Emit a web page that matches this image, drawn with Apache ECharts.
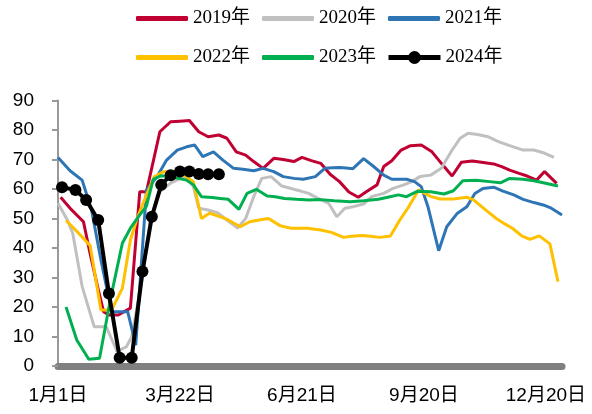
<!DOCTYPE html>
<html>
<head>
<meta charset="utf-8">
<script src="https://cdn.jsdelivr.net/npm/echarts@6/dist/echarts.min.js"></script>
<style>
  html, body { margin: 0; padding: 0; background: #fff; }
  #main { width: 592px; height: 414px; }
</style>
</head>
<body>
<div id="main"></div>
<script>
// x 轴: 天数(从起点开始), 每 91 天一个标签
const xTicks = [0, 91, 182, 273, 364];
const xLabels = ["1月1日", "3月22日", "6月21日", "9月20日", "12月20日"];
const names = ["2019年", "2020年", "2021年", "2022年", "2023年", "2024年"];

// [天数, 数值]
const y2019 = [[2,57.2],[10,53],[19,48.9],[24,38],[30,26],[34,18.4],[38,17.3],[45,17.3],[54,19.6],[61,59.1],[66,59.1],[76,79.4],[84,82.8],[91,83],[98,83.2],[105,79.4],[112,77.7],[120,78.3],[126,77.2],[133,72.6],[140,71.5],[146,69.3],[153,67],[161,70.4],[168,70],[176,69.3],[182,70.7],[189,69.6],[196,68.7],[203,65],[210,62.5],[217,59],[224,57.2],[230,59.1],[238,61.4],[243,67.6],[249,69.6],[256,73.2],[263,74.7],[271,74.9],[279,72.6],[286,68.7],[294,64.4],[301,69.1],[309,69.5],[316,69.1],[325,68.5],[331,67.6],[337,66.4],[344,65.3],[350,64.4],[357,63],[363,65.9],[372,61.9]];
const y2020 = [[0,55.2],[7,49.5],[11,45],[18,27],[27,13.3],[36,13.3],[44,5],[51,6.5],[55,9.9],[63,30],[69,50],[76,59],[84,62],[91,63.5],[96,64],[101,60.8],[105,53.5],[112,52.9],[119,52],[126,49.5],[134,46.8],[140,50],[146,57.4],[152,63.6],[159,64.2],[167,61],[176,59.9],[181,59.3],[187,58.5],[194,56.8],[202,55.1],[208,50.6],[214,53.5],[220,54],[228,54.9],[234,57.4],[243,58.5],[250,60.2],[258,61.4],[264,62.5],[270,64.2],[278,64.7],[286,67],[294,73.2],[300,77.2],[306,78.9],[313,78.5],[321,77.7],[329,76],[337,74.7],[347,73.2],[355,73.2],[362,72.3],[370,70.7]];
const y2021 = [[0,70.7],[9,66.2],[18,63],[25,53],[32,36],[40,18.4],[52,18.4],[58,7.1],[66,59.7],[74,64.2],[81,69.8],[89,73.2],[96,74.3],[102,74.9],[108,71],[116,72.6],[123,69.8],[131,67],[138,66.7],[146,66.2],[153,67],[161,65.9],[168,64.2],[176,63.6],[183,63.3],[192,64.2],[199,67],[205,67.2],[210,67.3],[215,67.1],[220,66.9],[228,70.3],[235,67.8],[243,64.7],[249,63.3],[260,63.3],[266,62.5],[271,60.8],[276,54],[284,39.1],[290,47.2],[298,51.8],[305,54],[311,58.5],[317,60.2],[325,60.6],[332,59.3],[340,58],[347,56.5],[355,55.4],[362,54.6],[368,53.5],[376,51.2]];
const y2022 = [[6,49.3],[15,45.2],[24,40.8],[32,19],[40,19],[48,26.3],[54,42.7],[59,50],[66,58],[72,64.2],[79,65.9],[86,65.5],[94,64.7],[101,62.5],[107,50],[113,51.8],[121,50.6],[127,49.5],[136,47.2],[143,48.9],[150,49.5],[157,50],[166,47.5],[174,46.7],[180,46.7],[186,46.7],[196,46.1],[204,45.3],[213,43.6],[219,44],[227,44.2],[233,44],[240,43.6],[248,44.1],[255,49.5],[261,53.5],[269,59.7],[278,57.5],[285,56.6],[295,56.6],[305,57.2],[310,56.3],[319,52.9],[327,50],[334,48],[339,46.7],[346,44.1],[352,42.9],[359,44.1],[367,41.4],[373,28.6]];
const y2023 = [[6,20],[14,8.8],[23,2.3],[31,2.6],[39,22.4],[48,41.6],[54,46.7],[61,51.2],[66,54.2],[71,63.3],[77,64.5],[86,64],[96,63],[101,61.4],[107,57.4],[115,57.1],[121,56.8],[127,56.5],[135,53.1],[141,58.5],[148,59.9],[156,57.6],[162,57.4],[169,56.8],[178,56.5],[187,56.3],[196,56.4],[206,56],[218,55.7],[228,56],[239,56.5],[246,57.2],[254,58],[260,57.4],[268,59.2],[278,59.1],[288,58.3],[295,59.4],[302,62.8],[312,63],[322,62.5],[330,62.1],[337,63.6],[347,63.3],[355,62.8],[362,62.1],[373,61]];
const y2024 = [[3,60.6],[13,59.7],[21,56.3],[30,49.5],[38,24.6],[46,2.8],[55,2.8],[63,32],[70,50.6],[77,61.4],[84,64.7],[91,65.9],[98,65.9],[105,65.1],[112,65],[120,65]];

const colors = ["#C00032", "#C0C0C0", "#2E75B6", "#FFC000", "#00B050", "#000000"];
const allData = [y2019, y2020, y2021, y2022, y2023, y2024];

const myChart = echarts.init(document.getElementById("main"));

const series = allData.map((d, i) => {
  const isLast = i === 5;
  return {
    name: names[i],
    type: "line",
    data: d,
    symbol: isLast ? "circle" : "none",
    symbolSize: 12,
    showSymbol: isLast,
    lineStyle: { width: isLast ? 4 : 3, color: colors[i] },
    itemStyle: { color: colors[i] },
    z: isLast ? 5 : 2,
  };
});

const legendText = {
  fontFamily: "Liberation Serif, Noto Sans CJK SC",
  fontSize: 19,
  color: "#000",
};

// 普通线条图例用细长圆角矩形, 2024年单独一个图例(带圆点)
const lineLegend = {
  icon: "roundRect",
  itemWidth: 52,
  itemHeight: 5,
  itemGap: 12,
  textStyle: legendText,
};

myChart.setOption({
  animation: false,
  color: colors,
  legend: [
    Object.assign({ data: names.slice(0, 3), left: 131, top: 4 }, lineLegend),
    Object.assign({ data: names.slice(3, 5), left: 131, top: 43 }, lineLegend),
    {
      data: names.slice(5),
      left: 381,
      top: 43,
      itemWidth: 52,
      itemHeight: 16,
      lineStyle: { width: 5 },
      textStyle: legendText,
    },
  ],
  grid: {
    left: 58,
    right: 30,
    top: 100.5,
    bottom: 48,
  },
  xAxis: {
    type: "value",
    min: 0,
    max: 376,
    interval: 91,
    offset: 3,
    splitLine: { show: false },
    axisTick: { show: false },
    axisLine: { show: true, lineStyle: { color: "#808080", width: 7 } },
    axisLabel: {
      margin: 17,
      fontSize: 19,
      fontFamily: "Liberation Sans, Noto Sans CJK SC",
      color: "#000",
      showMaxLabel: false,
      formatter: function (v) {
        const idx = xTicks.indexOf(v);
        return idx >= 0 ? xLabels[idx] : "";
      },
    },
  },
  yAxis: {
    type: "value",
    min: 0,
    max: 90,
    interval: 10,
    splitLine: { show: false },
    axisLine: { show: true, lineStyle: { color: "#999", width: 2 } },
    axisTick: { show: true, length: 6, lineStyle: { color: "#999", width: 2 } },
    axisLabel: {
      margin: 24,
      fontSize: 19,
      fontFamily: "Liberation Sans",
      color: "#000",
    },
  },
  series: series,
});
</script>
</body>
</html>
